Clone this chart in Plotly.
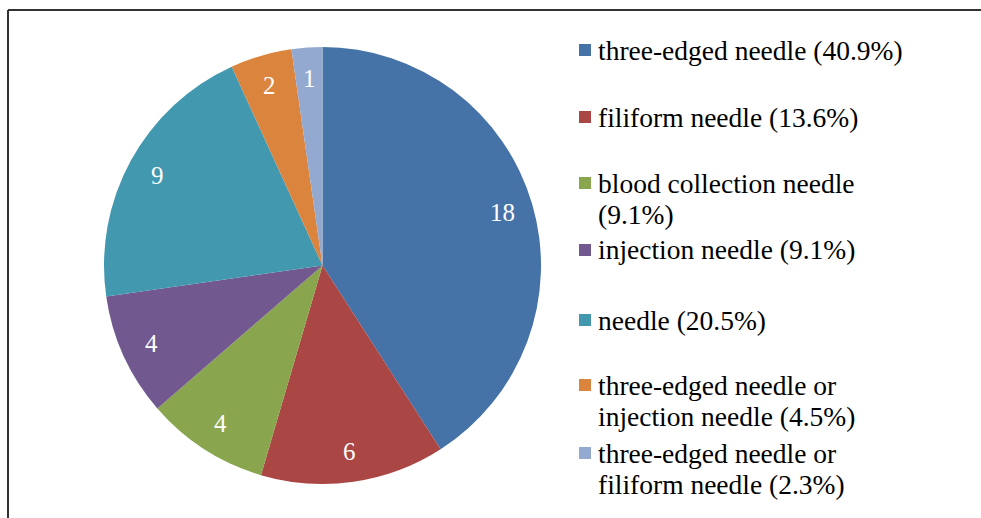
import math
import plotly.graph_objects as go

# ---- data ----
labels = ["three-edged needle", "filiform needle", "blood collection needle",
          "injection needle", "needle", "three-edged needle or injection needle",
          "three-edged needle or filiform needle"]
values = [18, 6, 4, 4, 9, 2, 1]
legend_text = [
    ["three-edged needle (40.9%)"],
    ["filiform needle (13.6%)"],
    ["blood collection needle", "(9.1%)"],
    ["injection needle (9.1%)"],
    ["needle (20.5%)"],
    ["three-edged needle or", "injection needle (4.5%)"],
    ["three-edged needle or", "filiform needle (2.3%)"],
]
colors = ["#4572A7", "#AA4643", "#89A54E", "#71588F", "#4198AF", "#DB843D", "#93A9CF"]

W, H = 981, 518
FONT = "Liberation Serif"

def px(x):
    return x / W

def py(y):
    return 1 - y / H

# pie placement (pixels)
PX0, PX1, PY0, PY1 = 104, 541, 47, 484
CX, CY = (PX0 + PX1) / 2, (PY0 + PY1) / 2
R = (PX1 - PX0) / 2
LABEL_R = 0.86

fig = go.Figure()
fig.add_trace(go.Pie(
    labels=labels, values=values, sort=False, direction="clockwise", rotation=0,
    marker=dict(colors=colors, line=dict(width=0)),
    textinfo="none",
    domain=dict(x=[px(PX0), px(PX1)], y=[py(PY1), py(PY0)]),
    showlegend=False, hoverinfo="label+value+percent",
))

shapes = []
annotations = []

# value labels inside slices (angles derived from the data)
total = sum(values)
cum = 0
for v in values:
    mid = (cum + v / 2) / total * 2 * math.pi
    cum += v
    lx = CX + LABEL_R * R * math.sin(mid)
    ly = CY - LABEL_R * R * math.cos(mid)
    annotations.append(dict(text=str(v), xref="paper", yref="paper",
                            x=px(lx), y=py(ly), xanchor="center", yanchor="middle",
                            showarrow=False,
                            font=dict(family=FONT, size=25, color="white")))

# legend drawn as annotations + square shapes
entry_y = [50, 117, 183, 250, 320, 385, 453]
line_gap = 31
for i, lines in enumerate(legend_text):
    y0 = entry_y[i]
    shapes.append(dict(type="rect", xref="paper", yref="paper",
                       x0=px(579), x1=px(591), y0=py(y0 + 6), y1=py(y0 - 6),
                       fillcolor=colors[i], line=dict(width=0)))
    for k, t in enumerate(lines):
        annotations.append(dict(text=t, xref="paper", yref="paper",
                                x=px(596), y=py(y0 + k * line_gap),
                                xanchor="left", yanchor="middle", showarrow=False,
                                font=dict(family=FONT, size=27.5, color="#000000")))

# chart border (top and left visible)
shapes.append(dict(type="line", xref="paper", yref="paper",
                   x0=px(8), x1=1.01, y0=py(10), y1=py(10),
                   line=dict(color="#333333", width=2)))
shapes.append(dict(type="line", xref="paper", yref="paper",
                   x0=px(8), x1=px(8), y0=py(10), y1=-0.01,
                   line=dict(color="#333333", width=2)))

fig.update_layout(
    width=W, height=H, margin=dict(l=0, r=0, t=0, b=0),
    paper_bgcolor="white", plot_bgcolor="white",
    font=dict(family=FONT),
    shapes=shapes, annotations=annotations,
)
fig.write_html("out.html", config={"displayModeBar": False},
               post_script="document.body.style.margin='0';document.body.style.overflow='hidden';")
